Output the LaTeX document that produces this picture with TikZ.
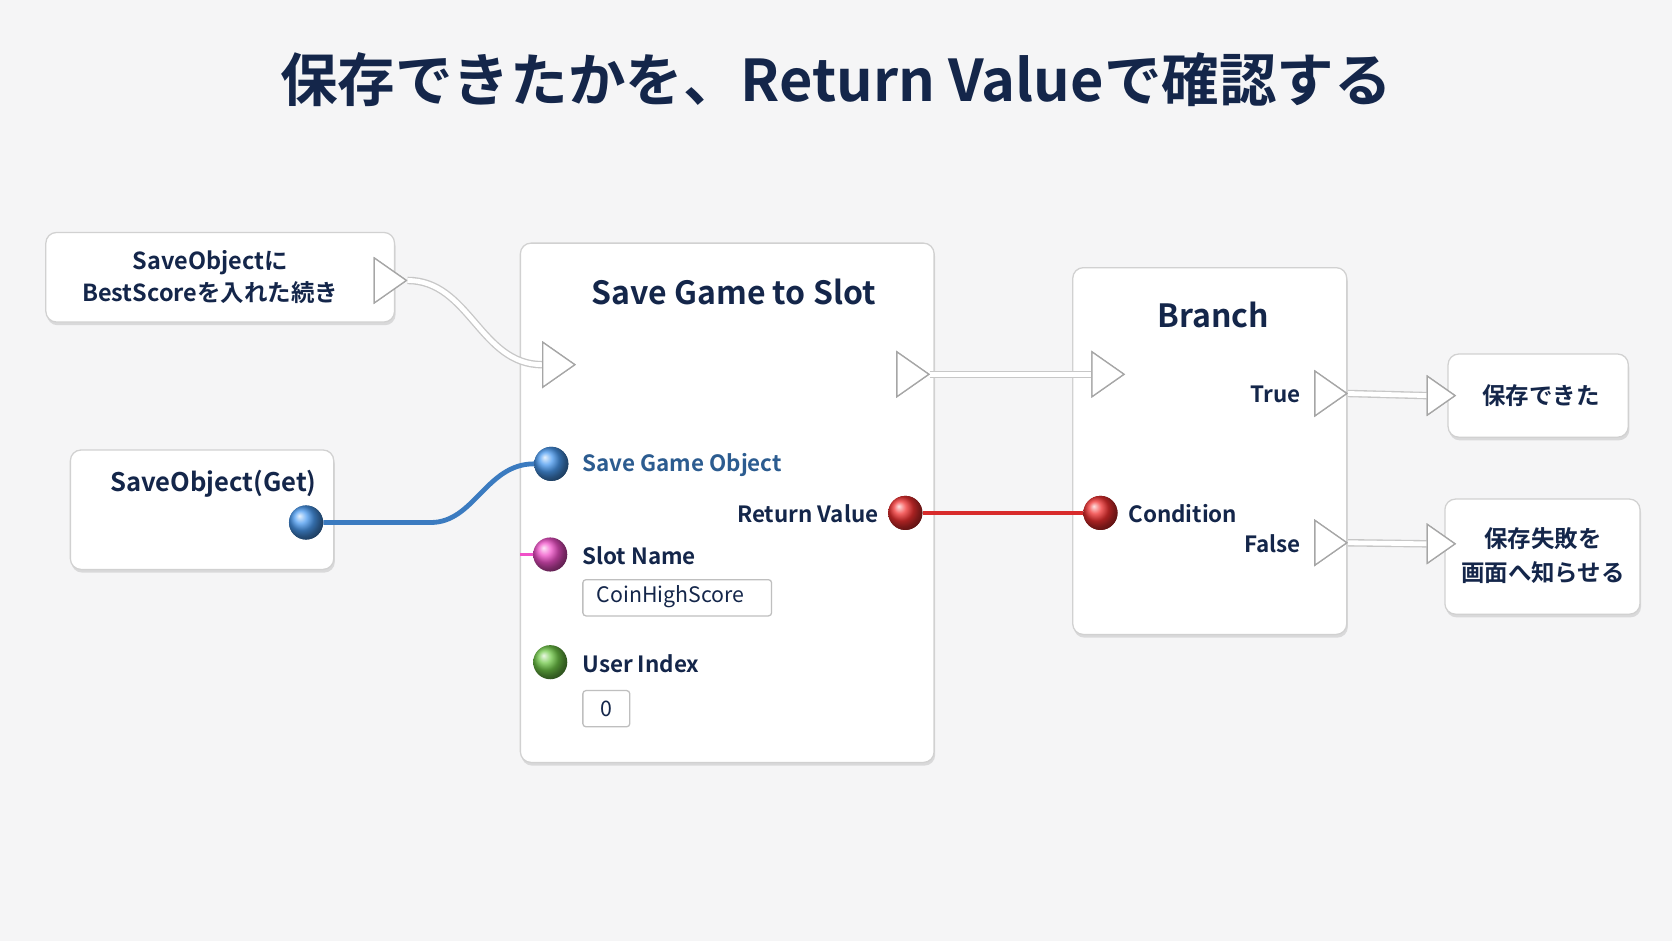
\documentclass[tikz,border=0pt]{standalone}
\usepackage{fontspec}
\setmainfont{Noto Sans CJK JP}[BoldFont={Noto Sans CJK JP Bold}]
\usetikzlibrary{shapes.geometric,shadows}
\definecolor{navy}{HTML}{14264A}
\definecolor{pinblue}{HTML}{4A9AF0}
\definecolor{pinred}{HTML}{F03030}
\definecolor{pinmag}{HTML}{F050C8}
\definecolor{pingreen}{HTML}{70C848}
\definecolor{bg}{HTML}{F5F5F6}
\tikzset{
  card/.style={draw=black!18, line width=1.2pt, fill=white, rounded corners=10pt,
    drop shadow={shadow xshift=1pt,shadow yshift=-3pt,fill=black!25,opacity=0.5}},
  exec/.style={isosceles triangle, isosceles triangle apex angle=70, draw=black!35,
    fill=white, line width=1.2pt, minimum height=30pt, inner sep=0pt},
  pin/.style={circle, minimum size=32pt, inner sep=0pt, shading=ball, ball color=#1},
  wire/.style={line width=7pt, draw=black!22, postaction={draw=white, line width=4.5pt}},
  field/.style={draw=black!25, line width=1.2pt, fill=white, rounded corners=3pt, font=\fontsize{20}{20}\selectfont},
  lbl/.style={text=navy, inner sep=0pt, font=\fontsize{21}{21}\selectfont\bfseries},
}
\begin{document}
\begin{tikzpicture}[x=1pt,y=-1pt]
  \fill[bg] (0,0) rectangle (1568,882);
  \useasboundingbox (0,0) rectangle (1568,882);

  \node[text=navy, font=\fontsize{54}{54}\selectfont\bfseries] (title) at (784,75) {保存できたかを、Return Valueで確認する};

  % cards
  \draw[card] (43,218) rectangle (370,302);
  \node[lbl, align=center, font=\fontsize{22}{30}\selectfont\bfseries] (prev) at (197,260) {SaveObjectに\\BestScoreを入れた続き};
  \draw[card] (66,422) rectangle (313,534);
  \node[lbl, font=\fontsize{24}{24}\selectfont\bfseries] (getlbl) at (200,454) {SaveObject(Get)};
  \draw[card] (488,228) rectangle (876,715);
  \node[lbl, font=\fontsize{30}{30}\selectfont\bfseries] (savelbl) at (688,274) {Save Game to Slot};
  \draw[card] (1006,251) rectangle (1263,595);
  \node[lbl, font=\fontsize{30}{30}\selectfont\bfseries] (branchlbl) at (1138,295) {Branch};
  \draw[card] (1358,332) rectangle (1527,410);
  \node[lbl, font=\fontsize{22}{22}\selectfont\bfseries] (ok) at (1445,371) {保存できた};
  \draw[card] (1355,468) rectangle (1538,576);
  \node[lbl, align=center, font=\fontsize{22}{32}\selectfont\bfseries] (ng) at (1447,521) {保存失敗を\\画面へ知らせる};

  % exec pins
  \node[exec] (prevout) at (362,263) {};
  \node[exec] (savein) at (520,342) {};
  \node[exec] (saveout) at (852,351) {};
  \node[exec] (brin) at (1035,351) {};
  \node[exec] (trueout) at (1244,369) {};
  \node[exec] (falseout) at (1244,509) {};
  \node[exec, minimum height=26pt] (okin) at (1348,371) {};
  \node[exec, minimum height=26pt] (ngin) at (1348,510) {};

  % exec wires
  \draw[wire] (prevout.apex) to[out=0,in=180] (savein.west);
  \draw[wire] (saveout.apex) -- (brin.west);
  \draw[wire] (trueout.apex) -- (okin.west);
  \draw[wire] (falseout.apex) -- (ngin.west);
  \node[exec] at (362,263) {};
  \node[exec] at (520,342) {};
  \node[exec] at (852,351) {};
  \node[exec] at (1035,351) {};
  \node[exec] at (1244,369) {};
  \node[exec] at (1244,509) {};
  \node[exec, minimum height=26pt] at (1348,371) {};
  \node[exec, minimum height=26pt] at (1348,510) {};

  % data pins
  \coordinate (slotstub) at (488,520);
  \draw[line width=2pt, pinmag] (slotstub) -- (516,520);
  \node[pin=pinblue] (getout) at (287,490) {};
  \node[pin=pinblue] (objin) at (517,435) {};
  \node[pin=pinred] (retout) at (849,481) {};
  \node[pin=pinred] (condin) at (1032,481) {};
  \node[pin=pinmag] (slotin) at (516,520) {};
  \node[pin=pingreen] (userin) at (516,621) {};
  \draw[line width=4.5pt, pinblue!80!black, rounded corners=4pt] (getout) -- (400,490) to[out=0,in=180] (objin.west);
  \draw[line width=4.5pt, pinred!90!black] (retout.east) -- (condin.west);
  \node[pin=pinblue] at (287,490) {};
  \node[pin=pinblue] at (517,435) {};
  \node[pin=pinred] at (849,481) {};
  \node[pin=pinred] at (1032,481) {};

  % labels
  \node[lbl, text=pinblue!60!black, anchor=west] (objlbl) at (546,436) {Save Game Object};
  \node[lbl, anchor=east] (retlbl) at (824,482) {Return Value};
  \node[lbl, anchor=west] (slotlbl) at (546,521) {Slot Name};
  \node[field, minimum width=177pt, minimum height=34pt, anchor=north west, text=navy] (slotval) at (546,543) {};
  \node[font=\fontsize{20}{20}\selectfont, text=navy, anchor=west] (slottxt) at (556,560) {CoinHighScore};
  \node[lbl, anchor=west] (userlbl) at (546,622) {User Index};
  \node[field, minimum width=44pt, minimum height=34pt, anchor=north west, text=navy] (userval) at (546,647) {0};
  \node[lbl, anchor=west] (condlbl) at (1058,482) {Condition};
  \node[lbl, anchor=east] (truelbl) at (1220,370) {True};
  \node[lbl, anchor=east] (falselbl) at (1220,510) {False};
\end{tikzpicture}
\end{document}
